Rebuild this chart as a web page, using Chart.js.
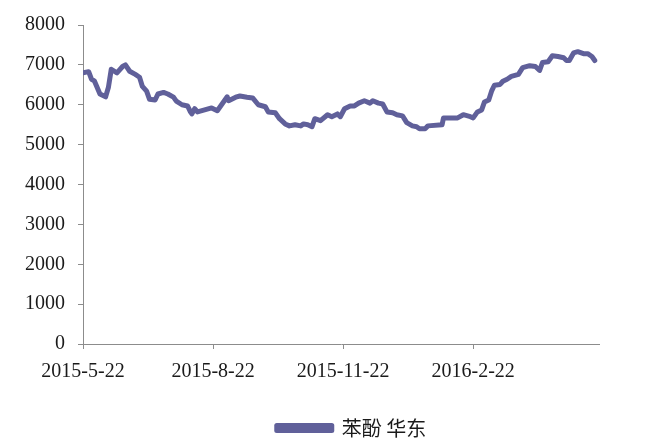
<!DOCTYPE html>
<html>
<head>
<meta charset="utf-8">
<script src="https://cdn.jsdelivr.net/npm/chart.js@4/dist/chart.umd.min.js"></script>
<style>
  html, body { margin: 0; padding: 0; background: #ffffff; }
  #wrap { width: 660px; height: 439px; position: relative; }
</style>
</head>
<body>
<div id="wrap"><canvas id="c"></canvas></div>
<script>
// ---- data ----
const seriesName = '苯酚 华东';
const startDate = '2015-05-22';
const endDate = '2016-05-21';
const tickDates = ['2015-05-22', '2015-08-22', '2015-11-22', '2016-02-22'];
const tickLabels = ['2015-5-22', '2015-8-22', '2015-11-22', '2016-2-22'];
const yTicks = [0, 1000, 2000, 3000, 4000, 5000, 6000, 7000, 8000];

const dates = [
  '2015-05-22','2015-05-26','2015-05-28','2015-05-30','2015-06-03','2015-06-07','2015-06-09','2015-06-11',
  '2015-06-15','2015-06-19','2015-06-21','2015-06-24','2015-06-28','2015-07-01','2015-07-03','2015-07-06',
  '2015-07-08','2015-07-12','2015-07-14','2015-07-18','2015-07-21','2015-07-25','2015-07-27','2015-07-31',
  '2015-08-04','2015-08-06','2015-08-07','2015-08-09','2015-08-11','2015-08-16','2015-08-21','2015-08-25',
  '2015-08-28','2015-09-01','2015-09-02','2015-09-07','2015-09-10','2015-09-15','2015-09-19','2015-09-23',
  '2015-09-28','2015-09-30','2015-10-05','2015-10-08','2015-10-12','2015-10-15','2015-10-19','2015-10-23',
  '2015-10-25','2015-10-28','2015-10-31','2015-11-02','2015-11-06','2015-11-11','2015-11-14','2015-11-18',
  '2015-11-20','2015-11-23','2015-11-27','2015-11-30','2015-12-03','2015-12-07','2015-12-11','2015-12-13',
  '2015-12-17','2015-12-20','2015-12-23','2015-12-27','2015-12-30','2016-01-03','2016-01-06','2016-01-10',
  '2016-01-13','2016-01-15','2016-01-19','2016-01-21','2016-01-31','2016-02-01','2016-02-07','2016-02-11',
  '2016-02-15','2016-02-20','2016-02-22','2016-02-25','2016-02-28','2016-03-01','2016-03-04','2016-03-06',
  '2016-03-08','2016-03-12','2016-03-14','2016-03-17','2016-03-20','2016-03-25','2016-03-28','2016-04-02',
  '2016-04-06','2016-04-09','2016-04-11','2016-04-15','2016-04-18','2016-04-22','2016-04-26','2016-04-28',
  '2016-04-30','2016-05-03','2016-05-06','2016-05-10','2016-05-13','2016-05-16','2016-05-18'
];
const values = [
  6800, 6830, 6640, 6600, 6270, 6200, 6440, 6890,
  6800, 6960, 7000, 6840, 6760, 6690, 6460, 6340,
  6140, 6120, 6270, 6310, 6270, 6190, 6090, 6000,
  5970, 5820, 5770, 5900, 5820, 5870, 5920, 5850,
  6000, 6200, 6100, 6190, 6220, 6190, 6170, 6000,
  5950, 5820, 5800, 5650, 5520, 5470, 5500, 5470,
  5520, 5500, 5450, 5650, 5600, 5750, 5700, 5770,
  5700, 5900, 5970, 5970, 6040, 6100, 6040, 6100,
  6040, 6020, 5820, 5800, 5750, 5720, 5550, 5470,
  5450, 5400, 5400, 5470, 5500, 5670, 5670, 5670,
  5750, 5700, 5670, 5820, 5870, 6070, 6120, 6340,
  6490, 6510, 6590, 6640, 6710, 6760, 6930, 6980,
  6960, 6860, 7060, 7080, 7230, 7210, 7180, 7110,
  7110, 7300, 7330, 7280, 7280, 7210, 7110
];

// ---- helpers ----
const DAY = 86400000;
function dayIndex(s) {
  const [y, m, d] = s.split('-').map(Number);
  const [y0, m0, d0] = startDate.split('-').map(Number);
  return Math.round((Date.UTC(y, m - 1, d) - Date.UTC(y0, m0 - 1, d0)) / DAY);
}
const points = dates.map((d, i) => ({ x: dayIndex(d), y: values[i] }));
const tickPos = tickDates.map(dayIndex);
const labelFor = {};
tickPos.forEach((p, i) => { labelFor[p] = tickLabels[i]; });

const lineColor = '#60609a';
const axisColor = '#8c8c8c';
const textColor = '#1a1a1a';
const tickFont = { family: "'Liberation Serif', 'DejaVu Serif', serif", size: 20 };

// shift legend to match reference placement
const legendShift = {
  id: 'legendShift',
  afterLayout(chart) {
    const lg = chart.legend;
    if (lg) { lg.left += 52; lg.right += 52; lg.top += 9; lg.bottom += 9; }
  }
};

new Chart(document.getElementById('c'), {
  type: 'line',
  data: {
    datasets: [{
      label: seriesName,
      data: points,
      borderColor: lineColor,
      backgroundColor: lineColor,
      borderWidth: 5,
      pointRadius: 0,
      tension: 0,
      borderJoinStyle: 'round',
      borderCapStyle: 'round'
    }]
  },
  options: {
    responsive: true,
    maintainAspectRatio: false,
    animation: false,
    layout: { padding: { top: 17, right: 61, bottom: 0, left: 0 } },
    plugins: {
      legend: {
        position: 'bottom',
        labels: {
          boxWidth: 55,
          boxHeight: 5,
          padding: 2,
          color: textColor,
          font: { family: "'Noto Sans CJK SC', sans-serif", size: 20, lineHeight: 1 }
        }
      },
      tooltip: { enabled: false }
    },
    scales: {
      x: {
        type: 'linear',
        min: 0,
        max: dayIndex(endDate),
        afterBuildTicks(scale) {
          scale.ticks = tickPos.map(v => ({ value: v }));
        },
        afterFit(scale) { scale.height = 63; },
        ticks: {
          autoSkip: false,
          maxRotation: 0,
          padding: 11,
          color: textColor,
          font: tickFont,
          callback: (v) => labelFor[v] || ''
        },
        grid: { drawOnChartArea: false, drawTicks: true, tickLength: 5, color: axisColor },
        border: { color: axisColor, width: 1 }
      },
      y: {
        min: 0,
        max: 8000,
        afterBuildTicks(scale) {
          scale.ticks = yTicks.map(v => ({ value: v }));
        },
        afterFit(scale) { scale.width = 83; },
        ticks: {
          padding: 13,
          color: textColor,
          font: tickFont,
          callback: (v) => String(v)
        },
        grid: { drawOnChartArea: false, drawTicks: true, tickLength: 5, color: axisColor },
        border: { color: axisColor, width: 1 }
      }
    }
  },
  plugins: [legendShift]
});
</script>
</body>
</html>
